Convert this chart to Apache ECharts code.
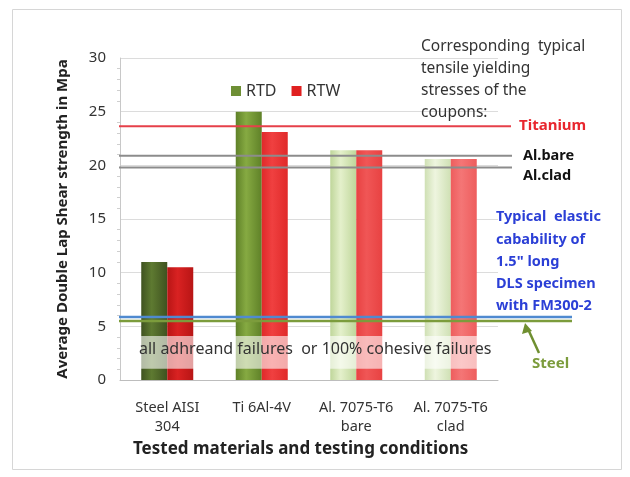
<!DOCTYPE html>
<html>
<head>
    <meta charset="utf-8">
    <title>Double Lap Shear strength</title>
    <script src="https://cdn.jsdelivr.net/npm/echarts@6/dist/echarts.min.js"></script>
    <style>
        body { margin: 0; background: #fff; }
        #main { width: 630px; height: 477px; }
    </style>
</head>
<body>
<div id="main"></div>
<script type="text/javascript">
    // data
    var categories = ['Steel AISI\n304', 'Ti 6Al-4V', 'Al. 7075-T6\nbare', 'Al. 7075-T6\nclad'];
    var rtd = [11.0, 25.0, 21.4, 20.6];
    var rtw = [10.5, 23.1, 21.4, 20.6];
    var yTicks = [0, 5, 10, 15, 20, 25, 30];

    // tensile yielding stresses / elastic capability reference lines
    var refNames = ['Titanium', 'Al.bare', 'Al.clad', 'elastic', 'Steel'];
    var refValues = [23.65, 20.9, 19.8, 5.87, 5.5];

    // cylinder-like shading per bar: [edge, light]
    var rtdShades = [['#3f5220', '#5e7a31'], ['#5f8128', '#86aa42'], ['#bfd69a', '#e4f0cb'], ['#cfe0b4', '#eef5df']];
    var rtwShades = [['#b81515', '#d92222'], ['#e02a2a', '#f04040'], ['#e84242', '#f05656'], ['#ee5d5d', '#f47676']];

    function shade(pair) {
        return new echarts.graphic.LinearGradient(0, 0, 1, 0, [
            {offset: 0, color: pair[0]},
            {offset: 0.4, color: pair[1]},
            {offset: 1, color: pair[0]}
        ]);
    }

    var myChart = echarts.init(document.getElementById('main'));
    var font = 'Noto Sans';

    var option = {
        animation: false,
        textStyle: {fontFamily: font},
        grid: {left: 120, right: 132, top: 58, bottom: 97},
        legend: {
            data: ['RTD', 'RTW'],
            left: 226, top: 78,
            itemWidth: 10, itemHeight: 10, itemGap: 15,
            icon: 'rect',
            textStyle: {fontFamily: font, fontSize: 16, color: '#333'}
        },
        xAxis: {
            type: 'category',
            data: categories,
            axisLine: {lineStyle: {color: '#bdbdbd'}},
            axisTick: {show: false},
            axisLabel: {interval: 0, fontSize: 14.5, color: '#333', margin: 18, lineHeight: 19}
        },
        yAxis: {
            type: 'value',
            min: 0, max: 30, interval: 5,
            name: 'Average Double Lap Shear strength in Mpa',
            nameLocation: 'middle',
            nameGap: 50,
            nameTextStyle: {fontSize: 15, fontWeight: 'bold', color: '#222', fontFamily: font},
            axisLine: {show: true, lineStyle: {color: '#c8c8c8'}},
            axisTick: {show: false},
            minorTick: {show: true, splitNumber: 5, length: 3, lineStyle: {color: '#cfcfcf'}},
            axisLabel: {
                fontSize: 15, color: '#333', margin: 14,
                formatter: function (v) { return yTicks.indexOf(v) >= 0 ? String(v) : ''; }
            },
            splitLine: {lineStyle: {color: '#dcdcdc'}}
        },
        series: [
            {
                name: 'RTD', type: 'bar',
                barWidth: 26, barGap: '0%',
                itemStyle: {color: '#6e8f35'},
                data: rtd.map(function (v, i) {
                    return {value: v, itemStyle: {color: shade(rtdShades[i])}};
                })
            },
            {
                name: 'RTW', type: 'bar',
                barWidth: 26,
                itemStyle: {color: '#e02020'},
                data: rtw.map(function (v, i) {
                    return {value: v, itemStyle: {color: shade(rtwShades[i])}};
                })
            }
        ]
    };
    myChart.setOption(option);

    // reference lines placed through the y scale
    var lineStyles = [
        {color: '#e6404a', right: 511, width: 2},
        {color: '#8c8c8c', right: 512, width: 2},
        {color: '#8c8c8c', right: 512, width: 2},
        {color: '#4f8ad0', right: 572, width: 2.5},
        {color: '#7c9c3c', right: 572, width: 2.5}
    ];
    var labelColors = ['#e8262e', '#111', '#111', null, '#7c9c3c'];
    var gfx = [];

    var bandTop = myChart.convertToPixel({yAxisIndex: 0}, 4.1);
    var bandBot = myChart.convertToPixel({yAxisIndex: 0}, 1.05);
    gfx.push({
        type: 'rect', z: 50,
        shape: {x: 134, y: bandTop, width: 366, height: bandBot - bandTop},
        style: {fill: 'rgba(255,255,255,0.6)'}
    });
    gfx.push({
        type: 'text', z: 51, left: 139, top: (bandTop + bandBot) / 2 - 11,
        style: {text: 'all adhreand failures  or 100% cohesive failures', font: '16px "Noto Sans"', fill: '#333'}
    });

    refValues.forEach(function (v, i) {
        var y = myChart.convertToPixel({yAxisIndex: 0}, v);
        gfx.push({
            type: 'line', z: 60,
            shape: {x1: 119, y1: y, x2: lineStyles[i].right, y2: y},
            style: {stroke: lineStyles[i].color, lineWidth: lineStyles[i].width}
        });
    });

    var yTi = myChart.convertToPixel({yAxisIndex: 0}, refValues[0]);
    var yBare = myChart.convertToPixel({yAxisIndex: 0}, refValues[1]);
    var yClad = myChart.convertToPixel({yAxisIndex: 0}, refValues[2]);
    gfx.push({type: 'text', z: 61, left: 519, top: yTi - 8,
        style: {text: refNames[0], font: 'bold 15px "Noto Sans"', fill: labelColors[0]}});
    gfx.push({type: 'text', z: 61, left: 523, top: yBare - 7,
        style: {text: refNames[1], font: 'bold 14.5px "Noto Sans"', fill: labelColors[1]}});
    gfx.push({type: 'text', z: 61, left: 523, top: yClad + 1,
        style: {text: refNames[2], font: 'bold 14.5px "Noto Sans"', fill: labelColors[2]}});
    gfx.push({type: 'text', z: 61, left: 532, top: 356,
        style: {text: refNames[4], font: 'bold 15px "Noto Sans"', fill: labelColors[4]}});

    // arrow from "Steel" up to its line
    var ySteel = myChart.convertToPixel({yAxisIndex: 0}, refValues[4]);
    gfx.push({type: 'line', z: 61, shape: {x1: 539, y1: 353, x2: 528, y2: ySteel + 8},
        style: {stroke: '#6f8f30', lineWidth: 2.5}});
    gfx.push({type: 'polygon', z: 61,
        shape: {points: [[525, ySteel + 2], [522, ySteel + 13], [532, ySteel + 10]]},
        style: {fill: '#6f8f30'}});

    gfx.push({
        type: 'text', z: 61, left: 421, top: 36,
        style: {
            text: 'Corresponding  typical\ntensile yielding\nstresses of the\ncoupons:',
            font: '15.5px "Noto Sans"', fill: '#333', lineHeight: 22
        }
    });
    gfx.push({
        type: 'text', z: 61, left: 496, top: 206,
        style: {
            text: 'Typical  elastic\ncabability of\n1.5" long\nDLS specimen\nwith FM300-2',
            font: 'bold 14.5px "Noto Sans"', fill: '#2b3fd6', lineHeight: 22.3
        }
    });
    gfx.push({
        type: 'text', z: 61, left: 133, top: 441,
        style: {text: 'Tested materials and testing conditions', font: 'bold 17px "Noto Sans"', fill: '#222'}
    });
    gfx.push({
        type: 'rect', z: 0, silent: true,
        shape: {x: 12.5, y: 9.5, width: 609, height: 460},
        style: {fill: 'none', stroke: '#d6d6d6', lineWidth: 1}
    });

    myChart.setOption({graphic: gfx});
</script>
</body>
</html>
